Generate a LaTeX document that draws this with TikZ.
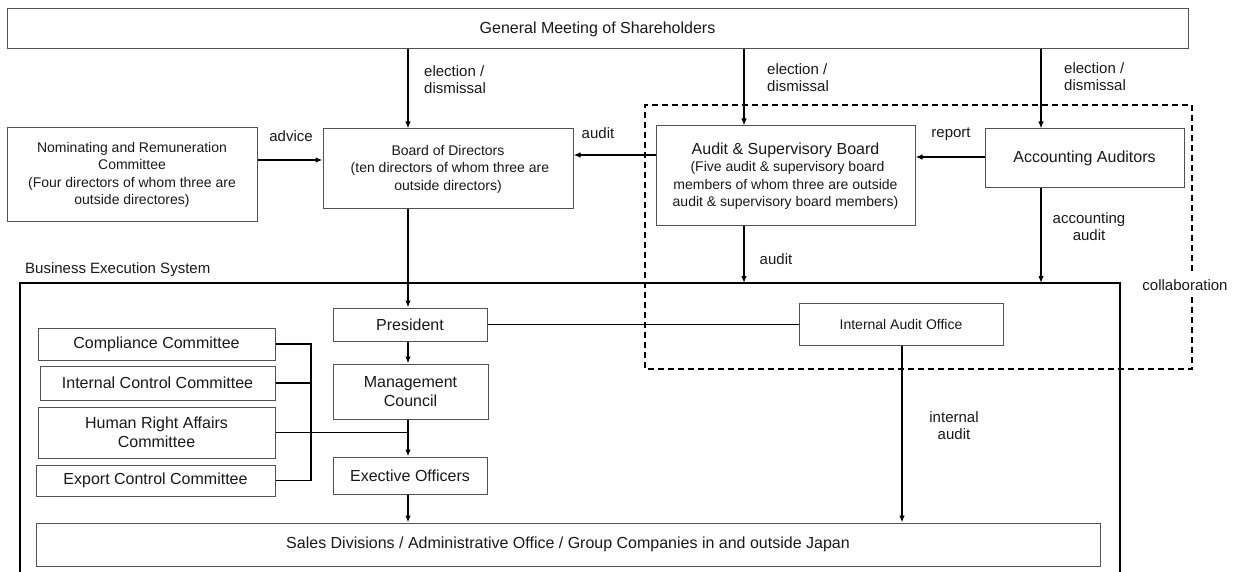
\documentclass[tikz,border=0pt]{standalone}
\usepackage{fontspec}
\setmainfont{Liberation Sans}
\usetikzlibrary{arrows.meta}
\newcommand{\fs}[1]{\fontsize{#1}{#1*1.15}\selectfont}
\begin{document}
\begin{tikzpicture}[x=1pt,y=-1pt,
  box/.style={draw=black!68,line width=1pt,inner sep=0pt,align=center,text=black!90,fill=white},
  arr/.style={line width=1.3pt,-{Latex[length=7pt,width=5.5pt]}},
  ln/.style={line width=1.3pt},
  lbl/.style={inner sep=0pt,text=black!90,font=\fontsize{15}{17}\selectfont},
  big/.style={font=\fontsize{16}{19}\selectfont},
  small/.style={font=\fontsize{14}{17.5}\selectfont}]
\useasboundingbox (0,0) rectangle (1234,572);
% column / row helpers
\coordinate (cA) at (408,0);
\coordinate (cB) at (744,0);
\coordinate (cC) at (1041,0);
\coordinate (cD) at (902,0);
\coordinate (cE) at (311,0);
\coordinate (r160) at (0,160);
\coordinate (r155) at (0,155);
\coordinate (r157) at (0,157);
\coordinate (bes) at (0,283);
% dashed collaboration frame
\draw[line width=1.5pt,dash pattern=on 6pt off 4pt] (1192,271) -- (1192,105) -- (645,105) -- (645,369) -- (1192,369) -- (1192,297);
\node[lbl] (collab) at (1185,285) {collaboration};
% business execution system frame
\draw[line width=1.5pt] (20,572) -- (20,283) -- (1120,283) -- (1120,572);
\node[lbl,anchor=west] (beslbl) at (25,270) {Business Execution System};
% boxes
\node[box,big,minimum width=1181pt,minimum height=40pt] (gm) at (597.5,29) {General Meeting of Shareholders};
\node[box,small,minimum width=250pt,minimum height=94pt] (nom) at (132,175) {Nominating and Remuneration\\Committee\\(Four directors of whom three are\\outside directores)};
\node[box,small,minimum width=250pt,minimum height=80pt] (board) at (448,169) {Board of Directors\\ \ (ten directors of whom three are\\outside directors)};
\node[box,small,minimum width=259pt,minimum height=100pt] (asb) at (785.5,176) {{\fontsize{16}{19}\selectfont Audit \& Supervisory Board}\\ \ (Five audit \& supervisory board\\members of whom three are outside\\audit \& supervisory board members)};
\node[box,big,minimum width=199pt,minimum height=59pt] (acc) at (1084.5,158.5) {Accounting Auditors};
\node[box,big,minimum width=154pt,minimum height=33pt] (pres) at (410,324.5) {President};
\node[box,small,minimum width=204pt,minimum height=42pt] (iao) at (901,324) {Internal Audit Office};
\node[box,big,minimum width=155pt,minimum height=55pt] (mc) at (410.5,391.5) {Management\\Council};
\node[box,big,minimum width=154pt,minimum height=37pt] (eo) at (410,475.5) {Exective Officers};
\node[box,big,minimum width=1064pt,minimum height=43pt] (sales) at (568,544.5) {Sales Divisions / Administrative Office / Group Companies in and outside Japan};
\node[box,big,minimum width=237pt,minimum height=32pt] (comp) at (156.5,344) {Compliance Committee};
\node[box,big,minimum width=235pt,minimum height=34pt] (ic) at (157.5,383) {Internal Control Committee};
\node[box,big,minimum width=237pt,minimum height=51pt] (hr) at (156.5,432.5) {Human Right Affairs\\Committee};
\node[box,big,minimum width=239pt,minimum height=31pt] (exp) at (155.5,480.5) {Export Control Committee};
% labels
\node[lbl,anchor=west,align=left] (l1) at (424,79.5) {election /\\dismissal};
\node[lbl,anchor=west,align=left] (l2) at (767,78) {election /\\dismissal};
\node[lbl,anchor=west,align=left] (l3) at (1064,77) {election /\\dismissal};
\node[lbl] (ladv) at (291,136) {advice};
\node[lbl] (laud) at (598,133) {audit};
\node[lbl] (lrep) at (951,134) {report};
\node[lbl] (laud2) at (776,259) {audit};
\node[lbl,align=center] (lacc) at (1089,226.5) {accounting\\audit};
\node[lbl,align=center] (lint) at (954,425.5) {internal\\audit};
% connectors
\draw[arr] (cA |- gm.south) -- (cA |- board.north);
\draw[arr] (cB |- gm.south) -- (cB |- asb.north);
\draw[arr] (cC |- gm.south) -- (cC |- acc.north);
\draw[arr] (nom.east |- r160) -- (board.west |- r160);
\draw[arr] (asb.west |- r155) -- (board.east |- r155);
\draw[arr] (acc.west |- r157) -- (asb.east |- r157);
\draw[arr] (cB |- asb.south) -- (cB |- bes);
\draw[arr] (cC |- acc.south) -- (cC |- bes);
\draw[arr] (cA |- board.south) -- (cA |- pres.north);
\draw[ln] (pres.east) -- (iao.west |- pres.east);
\draw[arr] (cA |- pres.south) -- (cA |- mc.north);
\draw[arr] (cA |- mc.south) -- (cA |- eo.north);
\draw[arr] (cA |- eo.south) -- (cA |- sales.north);
\draw[arr] (cD |- iao.south) -- (cD |- sales.north);
\draw[ln] (comp.east) -- (cE |- comp.east) -- (cE |- exp.east) -- (exp.east);
\draw[ln] (ic.east) -- (cE |- ic.east);
\draw[ln] (hr.east) -- (cA |- hr.east);
\end{tikzpicture}
\end{document}
